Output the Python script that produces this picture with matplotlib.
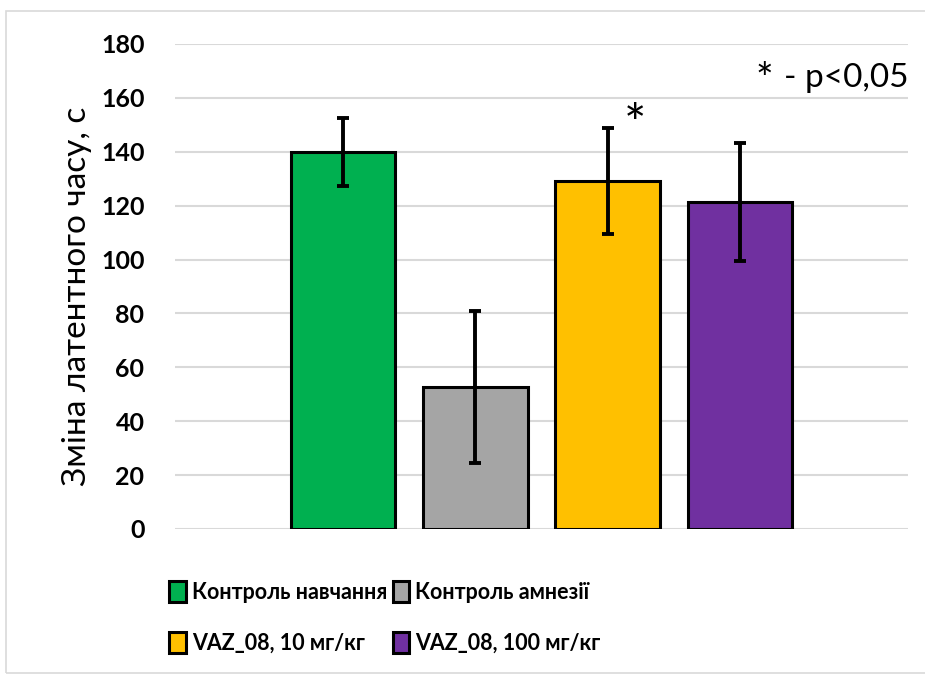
import matplotlib
matplotlib.use("Agg")
import matplotlib.pyplot as plt
from matplotlib.patches import Rectangle

# data
groups = ["Контроль навчання", "Контроль амнезії", "VAZ_08, 10 мг/кг", "VAZ_08, 100 мг/кг"]
means = [140.0, 52.7, 129.2, 121.4]
errs = [12.7, 28.2, 19.6, 22.0]
colors = ["#00b050", "#a5a5a5", "#ffc000", "#7030a0"]
yticks = [0, 20, 40, 60, 80, 100, 120, 140, 160, 180]

plt.rcParams['font.family'] = ['Lato', 'DejaVu Sans']

fig = plt.figure(figsize=(9.25, 6.75), dpi=100)
# light frame round the chart area
fig.patches.append(Rectangle((6/925, 0.003), 1.0, 1 - 11/675 - 0.003, transform=fig.transFigure,
                             fill=False, edgecolor="#d9d9d9", lw=1.2))

ax = fig.add_axes([175/925, 1 - 529/675, 733/925, 485/675])

bars = []
for i in range(len(groups)):
    b = ax.bar(i, means[i], width=0.79, color=colors[i], edgecolor="black", linewidth=2.2,
               label=groups[i], zorder=3)
    bars.append(b)
    ax.errorbar(i, means[i], yerr=errs[i], fmt="none", ecolor="black", elinewidth=2.8,
                capsize=4.5, capthick=2.8, zorder=4)

ax.set_xlim(-1.27, 4.27)
ax.set_ylim(0, 180)
ax.set_yticks(yticks)
ax.set_xticks([])
ax.tick_params(axis="y", length=0, pad=22, labelsize=18)
for lab in ax.get_yticklabels():
    lab.set_fontweight("bold")
ax.grid(axis="y", color="#d9d9d9", lw=1.5, zorder=0)
for s in ax.spines.values():
    s.set_visible(False)

ax.set_ylabel("Зміна латентного часу, с", fontsize=24, labelpad=4)
ax.yaxis.set_label_coords(-0.113, 0.48)

# significance marks
ax.text(2.21, 149, "*", fontsize=38, ha="center", va="center")
ax.text(0.8035, 0.924, "*", transform=ax.transAxes, fontsize=30, ha="center", va="center")
ax.text(1.0, 0.93, "- p<0,05", transform=ax.transAxes, fontsize=24, ha="right", va="center")

# row-major order like the reference legend
order = [0, 2, 1, 3]
leg = fig.legend([bars[k] for k in order], [groups[k] for k in order], ncol=2,
                 loc="upper left", bbox_to_anchor=(150/925, 1 - 562/675),
                 frameon=False, prop={"weight": "bold", "size": 15.5},
                 handlelength=0.75, handleheight=1.1, handletextpad=0.3,
                 columnspacing=0.25, labelspacing=1.35)

fig.savefig("out.png", dpi=100)
